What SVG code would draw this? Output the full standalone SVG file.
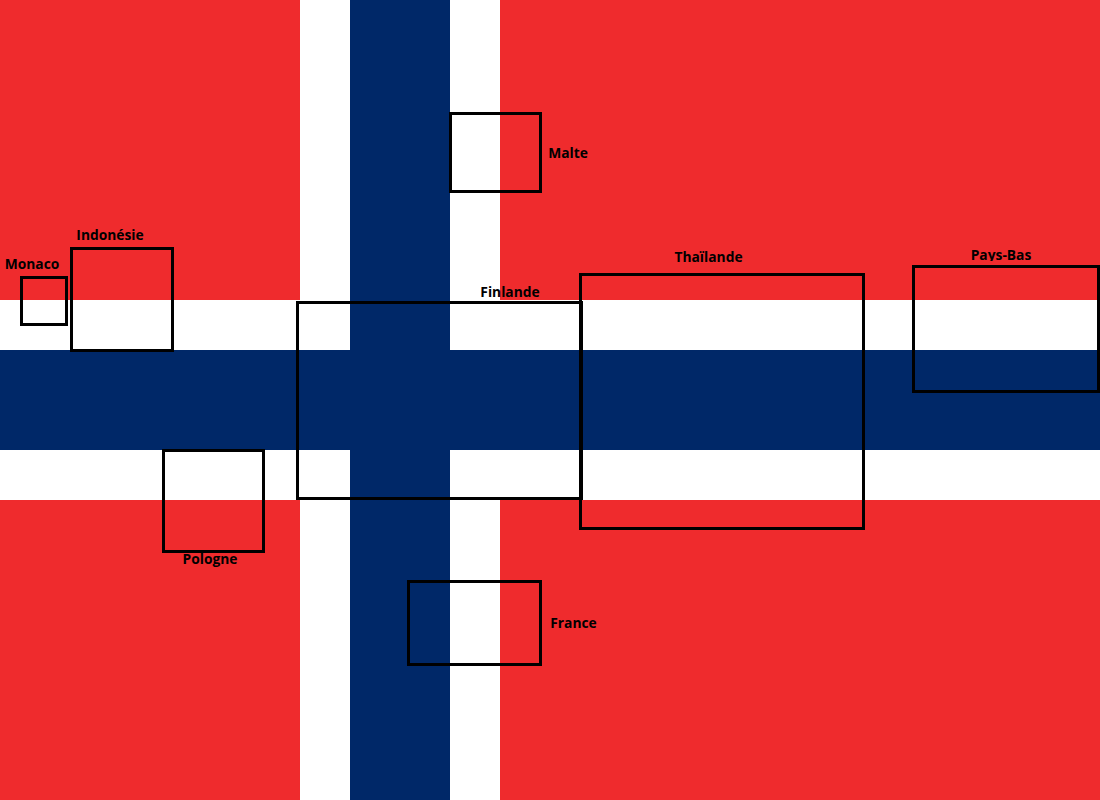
<svg xmlns="http://www.w3.org/2000/svg" width="1100" height="800" viewBox="0 0 1100 800">
<style>
.box{fill:none;stroke:#000;stroke-width:3}
.lbl{font-family:"Open Sans","Noto Sans","Liberation Sans",sans-serif;font-size:13.8px;font-weight:700;fill:#000;text-anchor:middle}
</style>
<defs><clipPath id="clipPB"><rect x="960" y="240" width="80" height="21"/></clipPath></defs>
<g id="flag">
<rect width="1100" height="800" fill="#ef2b2d"/>
<rect x="300" width="200" height="800" fill="#fff"/>
<rect y="300" width="1100" height="200" fill="#fff"/>
<rect x="350" width="100" height="800" fill="#002868"/>
<rect y="350" width="1100" height="100" fill="#002868"/>
</g>
<g id="connectors"/>
<g id="monaco"><rect class="box" x="21.5" y="277.5" width="45" height="47"/><text class="lbl" x="32" y="269">Monaco</text></g>
<g id="indonesie"><rect class="box" x="71.5" y="248.5" width="101" height="102"/><text class="lbl" x="110" y="240">Indonésie</text></g>
<g id="malte"><rect class="box" x="450.5" y="113.5" width="90" height="78"/><text class="lbl" x="568" y="158">Malte</text></g>
<g id="finlande"><rect class="box" x="297.5" y="302.5" width="284" height="196"/><text class="lbl" x="510" y="297">Finlande</text></g>
<g id="thailande"><rect class="box" x="580.5" y="274.5" width="283" height="254"/><text class="lbl" x="708.5" y="262">Thaïlande</text></g>
<g id="pays-bas"><rect class="box" x="913.5" y="266.5" width="185" height="125"/><text class="lbl" x="1001" y="260" clip-path="url(#clipPB)">Pays-Bas</text></g>
<g id="pologne"><rect class="box" x="163.5" y="450.5" width="100" height="101"/><text class="lbl" x="210" y="564">Pologne</text></g>
<g id="france"><rect class="box" x="408.5" y="581.5" width="132" height="83"/><text class="lbl" x="573.5" y="628">France</text></g>
</svg>
